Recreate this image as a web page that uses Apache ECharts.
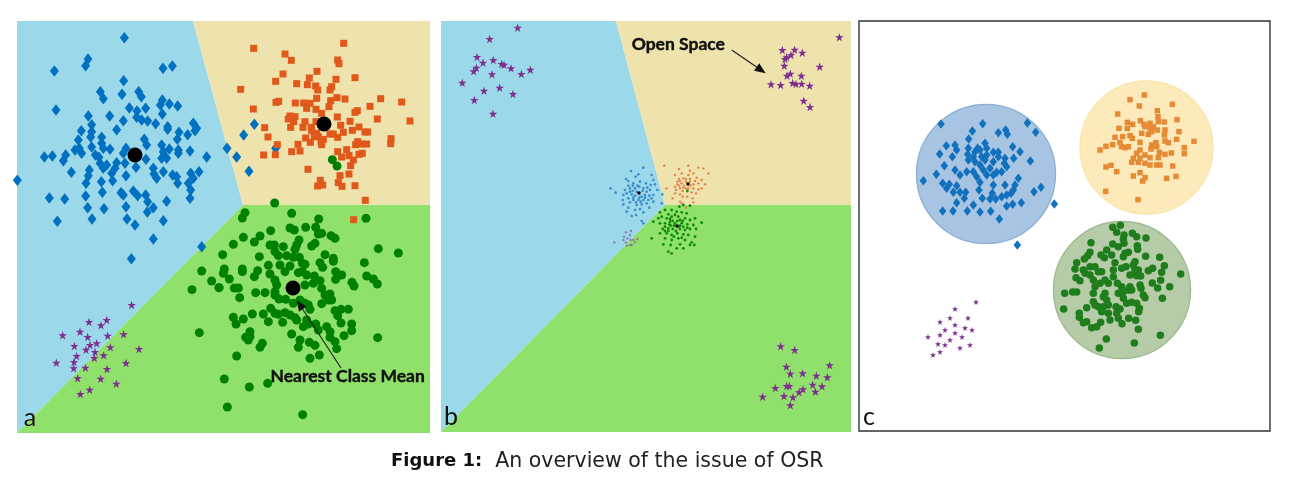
<!DOCTYPE html>
<html><head><meta charset="utf-8">
<style>html,body{margin:0;padding:0;background:#fff}#c{width:1305px;height:489px;filter:blur(.55px)}</style>
<script src="https://cdn.jsdelivr.net/npm/echarts@6/dist/echarts.min.js"></script></head>
<body><div id="c"></div>
<script>
// Readings taken from 3x crops of the figure; each list is [x,y] in crop units.
const blueA1=[[373,83],[264,147],[257,167],[163,183],[489,175],[517,168],[371,212],[301,245],[310,266],[366,253],[416,245],[424,260],[487,270],[481,285],[508,282],[533,288],[168,300],[388,294],[437,295],[411,303],[487,312],[265,318],[329,318],[410,322],[425,330],[443,333],[370,332],[467,341],[275,344],[503,350],[503,358],[580,340],[590,355],[585,362],[244,362],[350,359],[537,367],[563,374],[275,365],[272,381],[235,390],[305,382],[433,388],[440,405],[532,388],[225,420],[238,415],[245,430],[275,411],[305,400],[310,415],[330,418],[378,415],[370,430],[485,405],[508,417],[535,420],[535,430],[570,423],[620,441],[133,441],[157,438],[197,435],[190,452],[286,435],[297,442],[490,425],[485,445],[500,445],[438,448],[350,458],[300,460],[320,465],[310,475],[375,460],[345,475],[335,490],[378,497],[408,472],[460,475],[462,492],[490,485],[470,505],[518,495],[530,500],[572,490],[597,485],[580,505],[565,520],[533,520],[268,480],[265,497],[258,520],[304,515],[338,512],[52,511],[214,487],[572,540],[570,565],[148,564],[194,567],[257,558],[307,547],[363,548],[370,555],[400,543],[413,557],[437,555],[443,575],[460,593],[442,606],[500,574],[263,593],[312,596],[378,590],[172,634],[276,627],[381,627],[490,632]];
const blueA2=[[118,343],[86,375],[36,415],[65,441],[102,484],[182,415]];
const blueA3=[[405,15],[460,57],[605,80],[394,116]];
const orangeA=[[116,115],[386,100],[210,132],[229,151],[368,150],[372,161],[204,192],[306,184],[283,204],[182,214],[363,208],[420,203],[245,221],[277,224],[302,228],[308,240],[350,230],[345,240],[77,238],[305,265],[366,263],[390,267],[497,266],[560,276],[183,277],[191,274],[241,279],[266,279],[285,280],[275,295],[347,272],[342,290],[465,289],[115,297],[303,298],[320,310],[427,302],[420,307],[225,318],[240,320],[220,327],[236,335],[270,335],[367,321],[487,327],[585,333],[405,334],[149,353],[227,352],[264,352],[303,335],[377,346],[432,351],[289,352],[290,362],[412,361],[450,366],[458,366],[305,370],[345,372],[355,372],[385,367],[159,381],[272,384],[298,380],[310,380],[325,388],[368,382],[528,386],[527,401],[187,404],[249,403],[286,397],[318,395],[320,404],[428,395],[422,404],[440,402],[455,402],[146,435],[181,434],[230,425],[255,423],[368,425],[395,419],[380,441],[402,437],[415,450],[432,433],[442,430],[407,467],[279,478],[375,497],[402,492],[316,511],[308,528],[323,525],[370,518],[381,529],[420,527],[451,571],[416,629]];
const greenA2=[[352,449],[366,468],[179,579],[90,608],[82,624],[230,610],[311,627],[453,625]];
const greenA3=[[605,153],[635,183],[657,203],[576,209],[598,338]];
const greenA4=[[85,52],[55,73],[118,66],[135,48],[167,32],[225,24],[238,30],[272,22],[302,22],[310,42],[320,40],[300,70],[290,78],[348,47],[360,55],[252,60],[245,75],[240,88],[205,80],[165,75],[178,75],[180,95],[190,107],[215,107],[235,112],[253,112],[262,130],[270,133],[23,104],[133,110],[330,104],[355,115],[355,124],[315,128],[323,142],[490,86],[550,99],[448,128],[160,136],[195,135],[225,138],[210,155],[28,147],[25,160],[82,147],[82,155],[128,152],[118,170],[165,162],[43,177],[180,180],[185,195],[250,158],[262,155],[275,165],[298,168],[315,182],[295,190],[270,195],[362,155],[380,165],[362,178],[455,168],[475,177],[487,192],[411,187],[417,198],[12,203],[58,204],[70,204],[74,233],[122,218],[150,218],[180,215],[180,225],[192,237],[212,238],[235,250],[255,240],[320,205],[330,225],[345,222],[350,240],[340,240],[320,251],[270,250],[280,255],[285,268],[167,265],[180,280],[190,283],[210,278],[225,285],[240,293],[245,300],[112,282],[145,282],[55,292],[85,297],[63,312],[160,305],[203,307],[360,272],[378,268],[400,268],[368,287],[378,309],[410,312],[410,332],[275,300],[280,312],[265,320],[302,312],[310,330],[335,320],[345,335],[345,352],[360,365],[387,347],[488,353],[230,342],[105,335],[105,350],[92,352],[100,360],[142,370],[135,382],[255,360],[250,382],[283,367],[300,376],[365,386],[65,408],[285,415],[313,405],[28,477],[103,501],[158,490],[37,561],[263,584]];
const starsA=[[395,255],[320,300],[267,306],[303,316],[240,335],[188,346],[263,351],[323,347],[371,343],[290,370],[270,375],[223,378],[331,382],[258,389],[417,387],[285,396],[311,406],[230,408],[283,414],[169,428],[222,426],[378,429],[221,445],[256,443],[321,447],[233,475],[302,476],[349,491],[269,509],[241,522]];
const meansA=[[135,155],[324,124],[293,288]];
const starsB1=[[248,53],[164,87],[126,141],[144,158],[175,150],[200,162],[207,164],[228,175],[286,179],[259,192],[171,193],[124,173],[116,184],[82,218],[194,233],[147,242],[234,252],[118,270],[174,311]];
const starsB2=[[718,67],[547,105],[584,104],[607,113],[573,120],[560,127],[555,132],[659,155],[553,152],[571,176],[561,182],[604,182],[513,208],[542,210],[578,204],[588,207],[605,206],[629,212],[611,257],[630,276]];
const starsB3=[[122,34],[164,45],[139,95],[269,91],[151,116],[188,115],[229,122],[262,127],[218,149],[246,154],[140,153],[148,153],[106,159],[189,163],[177,172],[226,170],[132,183],[159,187],[68,185],[151,211]];
const tinyBlue=[[93,48],[130,38],[78,72],[107,65],[115,58],[155,60],[160,75],[32,100],[47,113],[85,78],[100,85],[120,80],[138,85],[152,90],[165,88],[90,100],[105,100],[118,95],[130,100],[150,105],[172,105],[187,118],[70,120],[80,115],[95,118],[105,122],[125,125],[135,120],[148,122],[160,120],[68,135],[85,130],[100,135],[115,135],[130,135],[145,135],[70,148],[90,142],[110,150],[125,148],[140,145],[160,140],[185,145],[85,158],[105,165],[120,162],[95,183],[108,180],[125,198],[130,205],[80,170],[148,158],[130,172],[98,108],[110,110],[112,92],[128,108],[140,110],[90,110],[100,128],[118,128],[108,142],[122,140],[135,128],[98,92],[142,98],[85,92],[75,105],[155,130]];
const tinyOrange=[[193,32],[237,42],[265,32],[270,47],[295,38],[310,40],[225,60],[245,55],[265,60],[280,55],[325,55],[237,72],[250,70],[270,72],[290,68],[305,75],[232,88],[245,85],[258,80],[280,88],[295,85],[315,88],[200,100],[228,105],[240,100],[250,98],[265,100],[280,100],[295,103],[305,100],[225,115],[240,118],[275,112],[288,115],[218,130],[248,125],[262,125],[278,130],[240,140],[258,158],[245,145],[280,142],[240,78],[252,92],[238,92],[270,80],[248,108],[258,72],[232,80],[272,92],[258,100],[225,95],[285,78]];
const tinyGreen=[[262,108],[238,155],[250,150],[270,152],[180,172],[195,165],[205,178],[215,165],[230,170],[245,172],[260,175],[160,200],[175,190],[185,185],[200,190],[215,185],[235,185],[255,190],[270,195],[285,190],[305,203],[180,205],[195,205],[210,200],[225,205],[245,205],[262,208],[280,210],[188,222],[205,220],[218,222],[240,222],[255,225],[270,222],[288,222],[155,250],[180,235],[200,235],[215,240],[232,235],[250,238],[265,240],[285,245],[195,250],[215,255],[235,250],[255,255],[275,262],[190,268],[212,270],[240,268],[270,270],[283,270],[205,290],[215,295],[230,280],[250,280],[222,212],[235,215],[212,212],[228,228],[240,212],[218,198],[232,198],[205,228],[250,215],[222,245],[208,208],[195,215],[240,195],[225,180],[210,192],[262,218],[245,248],[195,228],[248,198]];
const tinyPurple=[[93,228],[78,232],[72,245],[90,240],[82,250],[43,262],[70,255],[78,262],[92,255],[100,255],[112,252],[105,262],[95,270],[80,272],[90,270]];
const meansB=[[639,193],[688,184],[677,226]];
const blueC=[[108,87],[233,86],[367,84],[392,112],[202,108],[280,113],[302,105],[307,118],[191,132],[124,152],[150,150],[155,165],[142,185],[104,177],[323,155],[345,170],[326,190],[376,198],[118,212],[94,238],[55,257],[218,160],[240,145],[210,170],[225,165],[245,160],[265,172],[280,172],[190,160],[188,178],[205,185],[230,185],[245,180],[280,185],[190,195],[210,200],[225,210],[240,195],[265,200],[300,190],[298,205],[305,215],[150,225],[165,240],[185,230],[205,230],[235,225],[255,220],[275,232],[290,230],[215,245],[245,240],[265,240],[225,262],[265,270],[300,270],[340,250],[330,270],[325,285],[113,265],[125,280],[133,268],[155,272],[145,292],[165,292],[182,292],[178,310],[222,285],[232,310],[255,312],[262,295],[272,312],[290,305],[305,300],[318,295],[305,333],[323,328],[349,323],[387,290],[408,277],[155,323],[205,330],[113,348],[144,348],[187,348],[225,351],[257,349],[283,372],[448,327],[337,450]];
const orangeC=[[223,60],[180,74],[208,93],[307,88],[262,107],[143,117],[264,125],[321,134],[172,142],[188,148],[211,137],[222,148],[240,145],[265,140],[283,141],[147,160],[172,160],[225,155],[240,160],[250,155],[262,165],[285,165],[327,170],[215,175],[235,178],[245,170],[283,180],[135,187],[158,185],[180,182],[187,190],[320,193],[372,199],[285,198],[295,203],[150,203],[165,218],[155,215],[210,202],[258,203],[245,210],[108,214],[128,209],[90,225],[343,218],[343,236],[175,215],[243,222],[260,215],[268,232],[210,225],[200,235],[225,240],[285,238],[304,234],[190,250],[210,250],[240,248],[265,248],[185,262],[205,262],[225,265],[240,270],[260,270],[270,270],[308,273],[108,276],[123,271],[140,290],[190,303],[210,293],[225,308],[218,318],[290,310],[318,304],[107,349],[204,374]];
const greenC=[[218,37],[241,31],[230,52],[277,55],[290,65],[318,69],[252,60],[250,72],[252,85],[153,83],[218,87],[235,95],[292,92],[293,103],[150,112],[143,122],[133,132],[183,120],[193,128],[215,120],[200,105],[255,115],[265,112],[250,125],[317,124],[359,127],[110,143],[105,162],[225,143],[285,140],[280,150],[373,152],[338,160],[325,167],[150,155],[165,155],[130,165],[135,175],[150,180],[175,170],[185,170],[220,165],[245,160],[258,155],[285,165],[295,165],[365,172],[422,177],[270,180],[290,182],[302,183],[108,188],[120,197],[160,195],[195,195],[220,185],[165,215],[180,205],[205,205],[232,205],[245,215],[270,215],[337,204],[362,196],[353,219],[389,215],[300,210],[303,220],[160,235],[195,235],[190,245],[235,235],[250,230],[265,225],[275,225],[310,240],[315,248],[74,235],[98,231],[110,231],[367,250],[160,260],[200,255],[250,250],[260,265],[290,265],[175,275],[190,275],[205,270],[228,275],[240,282],[275,262],[298,280],[296,290],[71,282],[140,278],[165,270],[185,290],[205,295],[230,295],[235,310],[118,295],[118,307],[130,323],[140,320],[182,322],[155,338],[170,335],[210,315],[266,310],[287,316],[246,326],[295,343],[361,361],[199,372],[283,384],[178,399]];
const starsC=[[976,302],[955,309],[950,318],[940,322],[968,318],[955,325],[965,328],[972,330],[945,330],[940,335],[955,333],[962,337],[928,337],[950,340],[970,345],[945,345],[938,344],[933,355],[940,352],[960,348]];
const regionsA=[[[17,21],[193,21],[243,205],[17,433]],[[193,21],[430,21],[430,205],[243,205]],[[243,205],[430,205],[430,433],[17,433]]];
const regionsB=[[[441,21],[616,21],[665,205],[441,432]],[[616,21],[851,21],[851,205],[665,205]],[[665,205],[851,205],[851,432],[441,432]]];
const discsC=[[986,174,69.5],[1146.5,147.5,66.5],[1122,290,68.5]];
const labelsA=['a','Nearest Class Mean'], labelsB=['b','Open Space'], labelsC=['c'];
const labelPosA=[[30,418],[347.7,376.7]], labelPosB=[[451,417],[678.3,44.3]], labelPosC=[[869,417]];
const arrowA=[[341,368],[296.7,300]], arrowB=[[731.7,50],[765.7,73.3]];
const caption='{b|Figure 1:}  An overview of the issue of OSR';

const crop=(pts,ox,oy)=>pts.map(p=>[ox+p[0]/3,oy+p[1]/3]);
const STAR='path://M50 0L62 36L100 36L69 59L81 95L50 73L19 95L31 59L0 36L38 36Z';
const C={sky:'#9ad8ea',sand:'#eee2ad',lawn:'#90e06c',blue:'#0070c0',orange:'#e0591b',green:'#008000',purple:'#7e2d90'};
function dots(i,data,symbol,size,color,z,opacity){
  return {type:'scatter',xAxisIndex:i,yAxisIndex:i,data,symbol,symbolSize:size,z:z||3,
    itemStyle:{color,opacity:opacity==null?1:opacity},silent:true};
}
function polys(i,data,colors){
  return {type:'custom',xAxisIndex:i,yAxisIndex:i,z:1,silent:true,data:data.map((_,k)=>[k]),encode:{x:0,y:0},
    renderItem(p,api){const k=p.dataIndex;
      return {type:'polygon',shape:{points:data[k].map(q=>api.coord(q))},style:{fill:colors[k]}};}};
}
function discs(i,data,fills,strokes){
  return {type:'custom',xAxisIndex:i,yAxisIndex:i,z:1,silent:true,data:data.map((_,k)=>[k]),encode:{x:0,y:0},
    renderItem(p,api){const d=data[p.dataIndex],c=api.coord([d[0],d[1]]),r=api.size([d[2],0])[0];
      return {type:'circle',shape:{cx:c[0],cy:c[1],r},style:{fill:fills[p.dataIndex],stroke:strokes[p.dataIndex],lineWidth:1.4}};}};
}
function arrow(i,pts){
  return {type:'custom',xAxisIndex:i,yAxisIndex:i,z:6,silent:true,clip:false,data:[[0]],encode:{x:0,y:0},
    renderItem(p,api){const a=api.coord(pts[0]),b=api.coord(pts[1]);
      const ang=Math.atan2(b[1]-a[1],b[0]-a[0]),L=11,W=4.5;
      const m=[b[0]-L*Math.cos(ang),b[1]-L*Math.sin(ang)];
      const n=[-Math.sin(ang),Math.cos(ang)];
      return {type:'group',children:[
        {type:'line',shape:{x1:a[0],y1:a[1],x2:m[0],y2:m[1]},style:{stroke:'#222',lineWidth:1.2}},
        {type:'polygon',shape:{points:[b,[m[0]+W*n[0],m[1]+W*n[1]],[m[0]-W*n[0],m[1]-W*n[1]]]},style:{fill:'#111'}}]};}};
}
function texts(i,pos,names){
  return {type:'custom',xAxisIndex:i,yAxisIndex:i,z:7,silent:true,clip:false,data:pos.map((_,k)=>[k]),encode:{x:0,y:0},
    renderItem(p,api){const k=p.dataIndex,c=api.coord(pos[k]),big=names[k].length==1;
      return {type:'text',x:c[0],y:c[1],style:{text:names[k],align:'center',verticalAlign:'middle',fill:'#111',
        stroke:big?'none':'#111',lineWidth:big?0:.4,
        font:big?'25px Lato':'bold 17.5px Lato'}};}};
}
const panels=[[17,21,430,433],[441,21,851,432],[859,21,1270,431]];
const chart=echarts.init(document.getElementById('c'),null,{renderer:'canvas'});
chart.setOption({
  animation:false,backgroundColor:'#fff',
  title:{text:caption,left:391,top:451,padding:0,textStyle:{fontFamily:'DejaVu Sans',fontSize:20.5,fontWeight:'normal',color:'#222',
    rich:{b:{fontFamily:'DejaVu Sans',fontSize:18,fontWeight:'bold',color:'#111'}}}},
  grid:panels.map((p,i)=>({left:p[0],top:p[1],width:p[2]-p[0],height:p[3]-p[1],show:i==2,borderColor:'#333',borderWidth:1.4,backgroundColor:'#fff'})),
  xAxis:panels.map((p,i)=>({type:'value',gridIndex:i,min:p[0],max:p[2],show:false})),
  yAxis:panels.map((p,i)=>({type:'value',gridIndex:i,min:p[1],max:p[3],inverse:true,show:false})),
  series:[
    polys(0,regionsA,[C.sky,C.sand,C.lawn]),
    dots(0,crop(blueA1,0,10).concat(crop(blueA2,215,10),crop(blueA3,0,220)),'diamond',[9,11.5],C.blue),
    dots(0,crop(greenA4,215,220).concat(crop(greenA2,215,10),crop(greenA3,0,220)),'circle',9,C.green),
    dots(0,crop(orangeA,215,10),'rect',7,C.orange,4),
    dots(0,crop(starsA,0,220),STAR,8.5,C.purple),
    dots(0,meansA,'circle',15,'#000',5),
    arrow(0,arrowA),texts(0,labelPosA,labelsA),

    polys(1,regionsB,[C.sky,C.sand,C.lawn]),
    dots(1,crop(starsB1,435,10).concat(crop(starsB2,600,15),crop(starsB3,740,335)),STAR,8.5,C.purple),
    dots(1,crop(tinyBlue,600,155),'circle',2.6,'#2a7fc4',3,.85),
    dots(1,crop(tinyOrange,600,155),'circle',2.4,'#e2703a',3,.85),
    dots(1,crop(tinyGreen,600,155),'circle',2.8,C.green,3,.9),
    dots(1,crop(tinyPurple,600,155),'circle',2.4,'#8a6a9a',3,.8),
    dots(1,meansB,'circle',3.5,'#000',5),
    arrow(1,arrowB),texts(1,labelPosB,labelsB),

    discs(2,discsC,['#a8c4e3','#fdeaba','#b6cca9'],['#8fb1d6','#fbe5ac','#9dbb8e']),
    dots(2,crop(blueC,905,95),'diamond',[7.5,9.5],'#1271bd'),
    dots(2,crop(orangeC,1070,75),'rect',5.5,'#e58a35'),
    dots(2,crop(greenC,1040,215),'circle',7.5,'#1f7d1c'),
    dots(2,starsC,STAR,6,C.purple),
    texts(2,labelPosC,labelsC)
  ]
});
</script></body></html>
